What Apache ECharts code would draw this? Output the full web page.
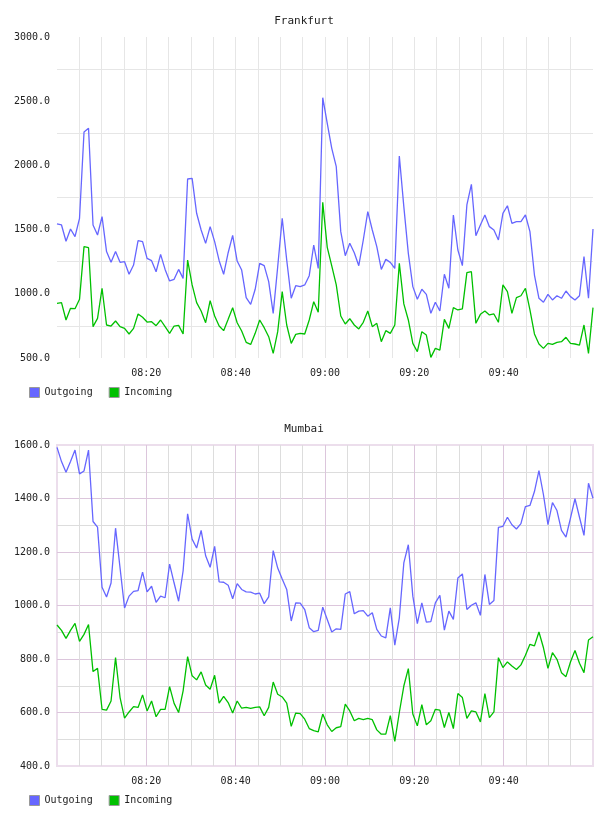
<!DOCTYPE html>
<html>
<head>
<meta charset="utf-8">
<script src="https://cdn.jsdelivr.net/npm/echarts@6/dist/echarts.min.js"></script>
<style>
    html, body { margin: 0; padding: 0; background: #fff; }
    .panel { width: 608px; height: 408px; }
</style>
</head>
<body>
<div id="frankfurtChart" class="panel"></div>
<div id="mumbaiChart" class="panel"></div>
<script>
// samples, one every ~60.5 s from 08:00 to 10:00 (minutes after 08:00)
const SAMPLE_COUNT = 120;
const SAMPLE_STEP = 120 / (SAMPLE_COUNT - 1);

const frankfurtOutgoing = [
    1544, 1536, 1409, 1505, 1445, 1588, 2260, 2289, 1536, 1458,
    1601, 1329, 1245, 1329, 1245, 1250, 1152, 1224, 1414, 1406,
    1276, 1258, 1172, 1307, 1190, 1100, 1113, 1190, 1120, 1894,
    1899, 1627, 1497, 1393, 1523, 1406, 1258, 1152, 1320, 1455,
    1255, 1185, 970, 918, 1035, 1237, 1219, 1095, 848, 1211,
    1588, 1263, 965, 1063, 1056, 1069, 1141, 1380, 1198, 2527,
    2328, 2133, 1990, 1484, 1297, 1393, 1320, 1219, 1419, 1640,
    1497, 1367, 1190, 1268, 1245, 1198, 2073, 1679, 1315, 1056,
    957, 1035, 996, 848, 934, 866, 1152, 1043, 1614, 1341,
    1219, 1692, 1853, 1453, 1536, 1614, 1523, 1497, 1419, 1627,
    1686, 1549, 1562, 1562, 1614, 1484, 1146, 965, 934, 996,
    952, 985, 965, 1022, 978, 952, 985, 1289, 965, 1505
];
const frankfurtIncoming = [
    926, 931, 796, 887, 884, 957, 1367, 1359, 744, 809,
    1043, 757, 749, 788, 744, 731, 687, 731, 843, 817,
    780, 783, 752, 796, 744, 692, 749, 754, 687, 1263,
    1069, 931, 866, 775, 947, 827, 749, 713, 801, 892,
    775, 710, 622, 606, 692, 796, 736, 666, 536, 705,
    1017, 757, 614, 684, 692, 687, 796, 939, 856, 1712,
    1362, 1217, 1069, 827, 765, 806, 757, 726, 778, 866,
    744, 770, 627, 713, 692, 757, 1237, 921, 796, 614,
    549, 705, 679, 505, 575, 562, 801, 731, 892, 874,
    882, 1165, 1172, 770, 840, 866, 835, 843, 778, 1069,
    1017, 848, 970, 985, 1043, 874, 687, 609, 575, 614,
    606, 622, 627, 661, 614, 609, 601, 757, 536, 892
];
const mumbaiOutgoing = [
    1591, 1538, 1498, 1538, 1581, 1492, 1503, 1581, 1314, 1293,
    1068, 1032, 1084, 1289, 1140, 991, 1035, 1053, 1056, 1125,
    1051, 1072, 1012, 1035, 1029, 1155, 1084, 1016, 1130, 1343,
    1248, 1215, 1281, 1186, 1143, 1221, 1088, 1087, 1076, 1025,
    1082, 1060, 1051, 1050, 1043, 1046, 1007, 1032, 1205, 1140,
    1099, 1060, 942, 1010, 1009, 985, 917, 902, 907, 994,
    948, 901, 913, 911, 1043, 1052, 969, 979, 981, 960,
    973, 911, 886, 879, 991, 852, 954, 1159, 1227, 1035,
    932, 1010, 938, 940, 1010, 1038, 908, 979, 948, 1103,
    1118, 985, 1001, 1010, 963, 1116, 1004, 1019, 1292, 1296,
    1330, 1302, 1286, 1306, 1370, 1374, 1426, 1504, 1414, 1302,
    1385, 1355, 1281, 1256, 1327, 1399, 1330, 1262, 1457, 1401
];
const mumbaiIncoming = [
    927, 907, 877, 907, 933, 866, 892, 929, 753, 765,
    612, 609, 643, 805, 656, 579, 602, 622, 619, 666,
    606, 643, 584, 612, 612, 697, 634, 600, 681, 809,
    737, 722, 752, 703, 687, 739, 635, 660, 637, 598,
    643, 616, 619, 615, 619, 621, 588, 619, 714, 668,
    658, 635, 548, 598, 596, 575, 540, 532, 528, 594,
    554, 529, 543, 547, 631, 606, 569, 578, 573, 578,
    573, 535, 519, 519, 588, 492, 600, 699, 764, 594,
    550, 629, 554, 569, 612, 609, 544, 600, 540, 671,
    656, 578, 606, 602, 565, 671, 581, 602, 805, 768,
    789, 774, 761, 778, 814, 855, 849, 901, 842, 765,
    824, 799, 749, 734, 789, 832, 784, 749, 871, 883
];

const seriesNames = ['Outgoing', 'Incoming'];
const seriesColors = ['#6666ff', '#00c000'];
const MONO = '"DejaVu Sans Mono", monospace';

function toPairs(values) {
    return values.map((v, i) => [i * SAMPLE_STEP, v]);
}

// minutes after 08:00 -> "hh:mm"
function fmtClock(value) {
    const total = 8 * 60 + Math.round(value);
    const h = Math.floor(total / 60).toString().padStart(2, '0');
    const m = (total % 60).toString().padStart(2, '0');
    return `${h}:${m}`;
}

function buildOption(title, outVals, inVals, y, look) {
    const labelStyle = { fontFamily: MONO, fontSize: 10, color: '#222' };
    return {
        animation: false,
        title: {
            text: title, left: 'center', top: 11,
            textStyle: { fontFamily: MONO, fontSize: 11, fontWeight: 'normal', color: '#222' }
        },
        legend: {
            data: seriesNames, left: 24, top: 382,
            icon: 'rect', itemWidth: 10, itemHeight: 10, itemGap: 16,
            itemStyle: { borderColor: '#999', borderWidth: 1 },
            textStyle: labelStyle
        },
        grid: {
            left: 57, right: 15, top: 37, bottom: 50,
            show: look.border, borderColor: '#ecdeec', borderWidth: 2
        },
        xAxis: {
            type: 'value', min: 0, max: 120, interval: 20,
            axisLine: { show: false }, axisTick: { show: false },
            axisLabel: Object.assign({ showMinLabel: false, showMaxLabel: false, margin: 10, formatter: fmtClock }, labelStyle),
            splitLine: { show: true, showMinLine: false, showMaxLine: false, lineStyle: { color: look.major, width: 1 } },
            minorTick: { show: false, splitNumber: 4 },
            minorSplitLine: { show: true, lineStyle: { color: look.minor, width: 1 } }
        },
        yAxis: {
            type: 'value', min: y.min, max: y.max, interval: y.interval,
            axisLine: { show: false }, axisTick: { show: false },
            axisLabel: Object.assign({ margin: 7, formatter: (v) => v.toFixed(1) }, labelStyle),
            splitLine: { show: look.ySplit, showMinLine: false, showMaxLine: false, lineStyle: { color: look.major, width: 1 } },
            minorTick: { show: false, splitNumber: 2 },
            minorSplitLine: { show: true, lineStyle: { color: look.minor, width: 1 } }
        },
        series: [
            { name: seriesNames[0], type: 'line', data: toPairs(outVals), showSymbol: false,
              color: seriesColors[0], lineStyle: { color: seriesColors[0], width: 1.3 } },
            { name: seriesNames[1], type: 'line', data: toPairs(inVals), showSymbol: false,
              color: seriesColors[1], lineStyle: { color: seriesColors[1], width: 1.3 } }
        ]
    };
}

const frankfurtChart = echarts.init(document.getElementById('frankfurtChart'));
frankfurtChart.setOption(buildOption('Frankfurt', frankfurtOutgoing, frankfurtIncoming,
    { min: 500, max: 3000, interval: 500 },
    { border: false, ySplit: false, major: '#e6e6e6', minor: '#e6e6e6' }));

const mumbaiChart = echarts.init(document.getElementById('mumbaiChart'));
mumbaiChart.setOption(buildOption('Mumbai', mumbaiOutgoing, mumbaiIncoming,
    { min: 400, max: 1600, interval: 200 },
    { border: true, ySplit: true, major: '#dcc6dc', minor: '#dddddd' }));
</script>
</body>
</html>
